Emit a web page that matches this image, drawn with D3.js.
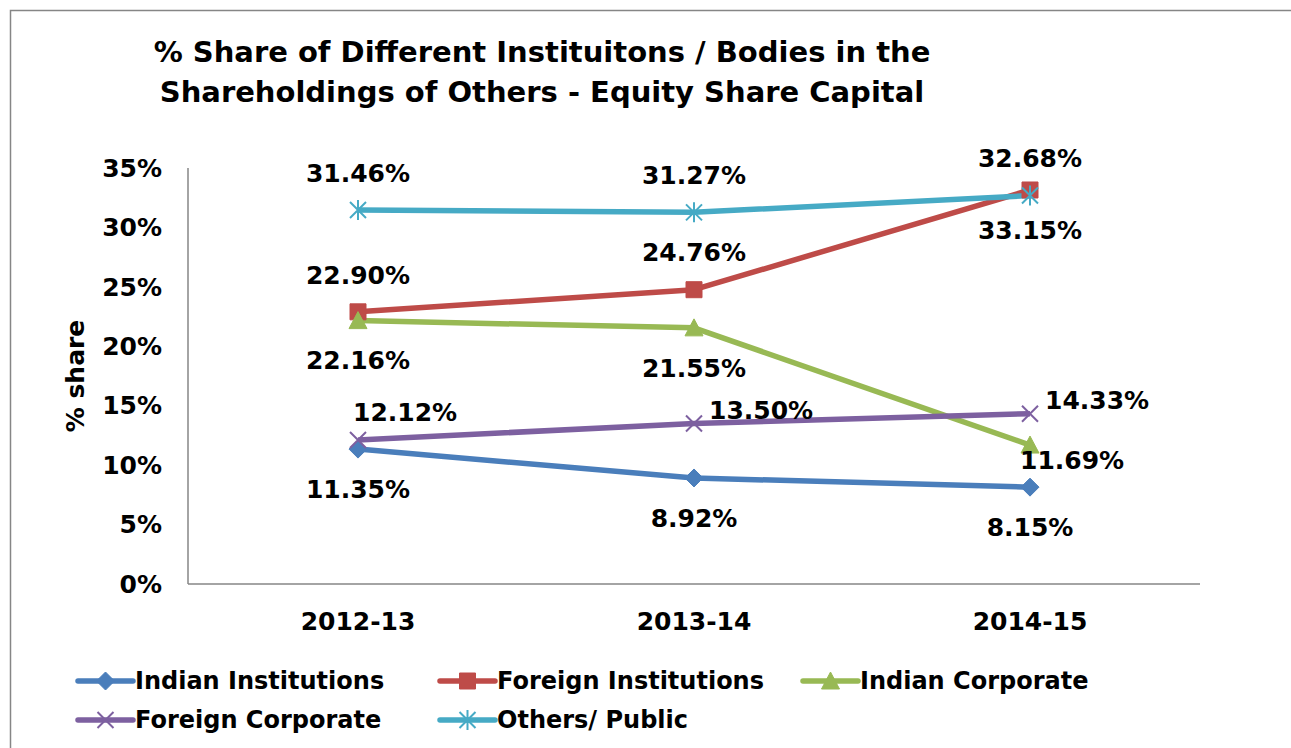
<!DOCTYPE html>
<html>
<head>
<meta charset="utf-8">
<script src="https://cdn.jsdelivr.net/npm/d3@7"></script>
<style>
  body { margin: 0; background: #fff; }
  text { font-family: "DejaVu Sans", Verdana, sans-serif; font-weight: bold; fill: #000; }
</style>
</head>
<body>
<div id="chart-area"></div>
<script>
var years = ["2012-13", "2013-14", "2014-15"];
var seriesNames = ["Indian Institutions", "Foreign Institutions", "Indian Corporate", "Foreign Corporate", "Others/ Public"];
var indianInstitutions = [11.35, 8.92, 8.15];
var foreignInstitutions = [22.90, 24.76, 33.15];
var indianCorporate = [22.16, 21.55, 11.69];
var foreignCorporate = [12.12, 13.50, 14.33];
var othersPublic = [31.46, 31.27, 32.68];
var yTicks = [0, 5, 10, 15, 20, 25, 30, 35];

// where each data label sits relative to its point
var labelPlace = [
    ["below", "below", "below"],
    ["above", "above", "below"],
    ["below", "below", "rightBelow"],
    ["rightAbove", "right", "right"],
    ["above", "above", "above"]
];

var colors = ["#4a7ebb", "#be4b48", "#98b954", "#7d60a0", "#46aac5"];
var markers = ["diamond", "square", "triangle", "cross", "star"];
var allValues = [indianInstitutions, foreignInstitutions, indianCorporate, foreignCorporate, othersPublic];

var width = 1291, height = 748;
var margin = { left: 188, right: 91, top: 168, bottom: 164 };

var svg = d3.select("#chart-area").append("svg")
    .attr("width", width)
    .attr("height", height);

// outer chart border
svg.append("rect")
    .attr("x", 10.5).attr("y", 10.5)
    .attr("width", width + 20).attr("height", height + 20)
    .attr("fill", "none")
    .attr("stroke", "#868686")
    .attr("stroke-width", 1.5);

svg.append("text")
    .attr("x", 542).attr("y", 62)
    .attr("text-anchor", "middle")
    .style("font-size", "29px")
    .text("% Share of Different  Instituitons / Bodies in the");
svg.append("text")
    .attr("x", 542).attr("y", 102)
    .attr("text-anchor", "middle")
    .style("font-size", "29px")
    .text("Shareholdings of Others - Equity Share Capital");

var x = d3.scaleBand()
    .domain(years)
    .range([margin.left + 2, width - margin.right - 2]);

var y = d3.scaleLinear()
    .domain([0, 35])
    .range([height - margin.bottom, margin.top]);

// axes
var g = svg.append("g");
g.append("line")
    .attr("x1", margin.left).attr("x2", margin.left)
    .attr("y1", y(35)).attr("y2", y(0))
    .attr("stroke", "#868686").attr("stroke-width", 1.5);
g.append("line")
    .attr("x1", margin.left).attr("x2", width - margin.right)
    .attr("y1", y(0)).attr("y2", y(0))
    .attr("stroke", "#868686").attr("stroke-width", 1.5);

g.selectAll(".ytick")
    .data(yTicks)
    .enter()
    .append("text")
    .attr("class", "ytick")
    .attr("x", 162)
    .attr("y", function (d) { return y(d); })
    .attr("dy", "0.35em")
    .attr("text-anchor", "end")
    .style("font-size", "25px")
    .text(function (d) { return d + "%"; });

g.selectAll(".xtick")
    .data(years)
    .enter()
    .append("text")
    .attr("class", "xtick")
    .attr("x", function (d) { return x(d) + x.bandwidth() / 2; })
    .attr("y", y(0) + 46)
    .attr("text-anchor", "middle")
    .style("font-size", "25px")
    .text(function (d) { return d; });

svg.append("text")
    .attr("transform", "translate(84," + ((y(0) + y(35)) / 2) + ") rotate(-90)")
    .attr("text-anchor", "middle")
    .style("font-size", "25px")
    .text("% share");

function markerPath(type, s) {
    var h = s / 2;
    if (type == "diamond") return "M0," + (-h - 1) + "L" + (h + 1) + ",0L0," + (h + 1) + "L" + (-h - 1) + ",0Z";
    if (type == "square") return "M" + (-h) + "," + (-h) + "h" + s + "v" + s + "h" + (-s) + "Z";
    if (type == "triangle") return "M0," + (-h - 1) + "L" + (h + 1) + "," + (h) + "L" + (-h - 1) + "," + h + "Z";
    if (type == "cross") return "M" + (-h) + "," + (-h) + "L" + h + "," + h + "M" + (-h) + "," + h + "L" + h + "," + (-h);
    return "M" + (-h) + "," + (-h) + "L" + h + "," + h + "M" + (-h) + "," + h + "L" + h + "," + (-h) + "M0," + (-h - 2) + "L0," + (h + 2);
}

function drawMarker(sel, i, s) {
    var open = markers[i] == "cross" || markers[i] == "star";
    sel.append("path")
        .attr("d", markerPath(markers[i], s))
        .attr("fill", open ? "none" : colors[i])
        .attr("stroke", colors[i])
        .attr("stroke-width", open ? 2 : 1);
}

var line = d3.line()
    .x(function (d, j) { return x(years[j]) + x.bandwidth() / 2; })
    .y(function (d) { return y(d); });

allValues.forEach(function (vals, i) {
    svg.append("path")
        .datum(vals)
        .attr("d", line)
        .attr("fill", "none")
        .attr("stroke", colors[i])
        .attr("stroke-width", 5.5)
        .attr("stroke-linejoin", "round");
});

allValues.forEach(function (vals, i) {
    vals.forEach(function (v, j) {
        var m = svg.append("g")
            .attr("transform", "translate(" + (x(years[j]) + x.bandwidth() / 2) + "," + y(v) + ")");
        drawMarker(m, i, 16);
    });
});

// data labels
allValues.forEach(function (vals, i) {
    vals.forEach(function (v, j) {
        var px = x(years[j]) + x.bandwidth() / 2, py = y(v);
        var place = labelPlace[i][j];
        var t = svg.append("text")
            .style("font-size", "25px")
            .attr("dy", "0.35em")
            .text(v.toFixed(2) + "%");
        if (place == "above") t.attr("x", px).attr("y", py - 37).attr("text-anchor", "middle");
        else if (place == "below") t.attr("x", px).attr("y", py + 40).attr("text-anchor", "middle");
        else if (place == "right") t.attr("x", px + 15).attr("y", py - 13).attr("text-anchor", "start");
        else if (place == "rightAbove") t.attr("x", px - 5).attr("y", py - 28).attr("text-anchor", "start");
        else t.attr("x", px - 10).attr("y", py + 15).attr("text-anchor", "start");
    });
});

// legend
var legendPos = [[78, 681], [440, 681], [803, 681], [78, 720], [440, 720]];
seriesNames.forEach(function (name, i) {
    var lg = svg.append("g")
        .attr("transform", "translate(" + legendPos[i][0] + "," + legendPos[i][1] + ")");
    lg.append("line")
        .attr("x1", 0).attr("x2", 55)
        .attr("stroke", colors[i])
        .attr("stroke-width", 5.5)
        .attr("stroke-linecap", "round");
    var m = lg.append("g").attr("transform", "translate(27.5,0)");
    drawMarker(m, i, 16);
    lg.append("text")
        .attr("x", 57)
        .attr("dy", "0.35em")
        .style("font-size", "24px")
        .text(name);
});
</script>
</body>
</html>
